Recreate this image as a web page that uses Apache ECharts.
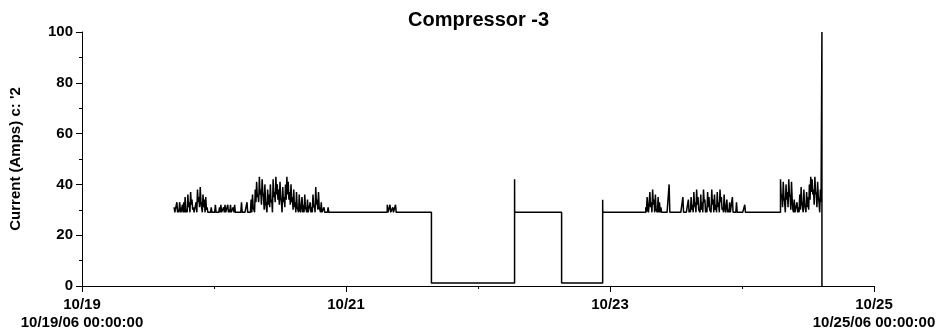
<!DOCTYPE html>
<html>
<head>
<meta charset="utf-8">
<script src="https://cdn.jsdelivr.net/npm/echarts@6/dist/echarts.min.js"></script>
<style>
  html, body { margin: 0; background: #fff; }
  #chart { width: 945px; height: 333px; }
</style>
</head>
<body>
<div id="chart"></div>
<script>
// axis text
const dayLabels = ["10/19", "10/21", "10/23", "10/25"];
const rangeLabels = ["10/19/06 00:00:00", "10/25/06 00:00:00"];
const axisStart = "2006-10-19T00:00";
const sampleMinutes = 15;

// logged bursts: max and min reading of each 15 min slot from the start time
const burstStarts = ["2006-10-19T16:45", "2006-10-21T07:30", "2006-10-23T06:30", "2006-10-24T07:00"];
const burstHigh = [
  [31, 29, 33, 30, 33, 29, 32, 33,
   35, 30, 36, 33, 37, 34,
   31, 29, 33,
   38, 35, 39,
   33, 36, 34, 35, 31,
   29, 29, 31, 29, 29, 32, 29, 29, 31,
   32, 29, 31, 32, 29, 32, 30, 32, 29, 31, 32, 29,
   29, 29, 29, 33, 29, 29, 29,
   33, 29, 29,
   34, 36, 30, 38,
   41, 36, 43, 38, 42,
   35, 40, 33, 38, 36, 40, 34,
   42, 37, 43, 40, 38, 41,
   33, 39, 35, 40, 43,
   41, 37, 40, 35, 38,
   33, 37, 31, 36, 29, 35, 32, 36,
   30, 34, 29, 33, 31,
   36, 32, 39, 34, 37, 31,
   33, 29, 31, 29, 29, 31,
   29, 29],
  [32, 29, 32, 29, 31, 29, 32, 29, 29],
  [31, 35, 29, 37, 33, 38, 34, 36, 30, 35, 33, 31,
   29, 29, 29, 29, 29,
   40,
   29, 29, 29, 29, 29, 29, 29, 29, 29,
   35,
   29, 29, 29,
   34, 30, 35, 32,
   37, 33, 38, 35, 30, 36, 33, 38, 34, 31, 37, 35, 30, 38, 34, 36, 32, 37, 33, 38, 35, 31, 36, 29, 34, 30, 33,
   29, 35, 29, 29, 33, 29, 29, 29,
   29, 29, 32, 29],
  [42, 36, 41, 33, 40, 37, 42, 35, 41,
   30, 34, 29, 33, 31,
   36, 39, 33, 38, 32, 37,
   35, 40, 43, 42, 38,
   43, 36, 41, 33, 38]
];
const burstLow = [
  [29, 29, 29, 29, 30, 29, 29, 29,
   29, 29, 31, 29, 32, 30,
   29, 29, 29,
   33, 31, 33,
   29, 31, 29, 30, 29,
   29, 29, 29, 29, 29, 29, 29, 29, 29,
   29, 29, 29, 29, 29, 29, 29, 29, 29, 29, 29, 29,
   29, 29, 29, 29, 29, 29, 29,
   29, 29, 29,
   29, 31, 29, 33,
   35, 33, 36, 32, 37,
   30, 33, 29, 32, 31, 33, 29,
   35, 33, 36, 34, 32, 35,
   29, 33, 31, 34, 36,
   34, 32, 33, 30, 31,
   29, 31, 29, 30, 29, 29, 29, 31,
   29, 29, 29, 29, 29,
   31, 29, 32, 30, 31, 29,
   29, 29, 29, 29, 29, 29,
   29, 29],
  [29, 29, 29, 29, 29, 29, 29, 29, 29],
  [29, 30, 29, 31, 29, 32, 29, 30, 29, 29, 29, 29,
   29, 29, 29, 29, 29,
   29,
   29, 29, 29, 29, 29, 29, 29, 29, 29,
   29,
   29, 29, 29,
   29, 29, 30, 29,
   31, 29, 32, 30, 29, 30, 29, 33, 29, 29, 31, 30, 29, 32, 29, 30, 29, 31, 29, 33, 30, 29, 31, 29, 29, 29, 29,
   29, 29, 29, 29, 29, 29, 29, 29,
   29, 29, 29, 29],
  [35, 31, 35, 29, 34, 31, 36, 30, 34,
   29, 29, 29, 29, 29,
   30, 33, 29, 32, 29, 31,
   30, 34, 37, 36, 32,
   37, 31, 35, 29, 33]
];

// level changes between the bursts
const levelTimes = ["2006-10-21T15:32", "2006-10-22T06:39", "2006-10-22T06:40", "2006-10-22T15:12",
                    "2006-10-22T22:40", "2006-10-22T22:41", "2006-10-24T14:32", "2006-10-24T14:32"];
const levelAmps = [1.2, 42, 29, 1.2, 34, 29, 100, 0];

const t0 = new Date(axisStart).getTime();
const toDays = (ms) => (ms - t0) / 86400000;
const slot = sampleMinutes * 60000;

const points = [];
burstStarts.forEach((s, b) => {
  const start = new Date(s).getTime();
  burstHigh[b].forEach((v, i) => {
    points.push([toDays(start + i * slot), v]);
    points.push([toDays(start + i * slot + slot / 2), burstLow[b][i]]);
  });
});
levelTimes.forEach((s, i) => points.push([toDays(new Date(s).getTime()), levelAmps[i]]));
points.sort((a, b) => a[0] - b[0]);

const font = "Liberation Sans, Arial, sans-serif";

const chart = echarts.init(document.getElementById("chart"));
chart.setOption({
  animation: false,
  title: {
    text: "Compressor -3",
    left: 403,
    top: 5,
    textStyle: { color: "#000", fontSize: 20, fontWeight: "bold", fontFamily: font },
  },
  grid: { left: 82, right: 71, top: 32, bottom: 47, outerBoundsMode: "none" },
  xAxis: {
    type: "value",
    min: 0,
    max: 6,
    interval: 2,
    axisLine: { show: true, lineStyle: { color: "#000", width: 1 } },
    axisTick: { show: true, length: 6, lineStyle: { color: "#000" } },
    minorTick: { show: true, splitNumber: 2, length: 3, lineStyle: { color: "#000" } },
    splitLine: { show: false },
    axisLabel: {
      color: "#000",
      fontSize: 15,
      fontWeight: "bold",
      fontFamily: font,
      lineHeight: 18,
      margin: 10,
      showMinLabel: true,
      showMaxLabel: true,
      formatter: (v) => {
        let s = dayLabels[Math.round(v / 2)];
        if (v === 0) s += "\n" + rangeLabels[0];
        if (v === 6) s += "\n" + rangeLabels[1];
        return s;
      },
    },
  },
  yAxis: {
    type: "value",
    min: 0,
    max: 100,
    interval: 20,
    name: "Current (Amps) c: '2",
    nameLocation: "middle",
    nameGap: 59,
    nameTextStyle: { color: "#000", fontSize: 15, fontWeight: "bold", fontFamily: font },
    axisLine: { show: true, lineStyle: { color: "#000", width: 1 } },
    axisTick: { show: true, length: 6, lineStyle: { color: "#000" } },
    minorTick: { show: true, splitNumber: 2, length: 3, lineStyle: { color: "#000" } },
    splitLine: { show: false },
    axisLabel: { color: "#000", fontSize: 15, fontWeight: "bold", fontFamily: font, margin: 9 },
  },
  series: [
    {
      type: "line",
      step: "end",
      data: points,
      showSymbol: false,
      symbol: "none",
      lineStyle: { color: "#000", width: 1.5 },
    },
  ],
});
</script>
</body>
</html>
